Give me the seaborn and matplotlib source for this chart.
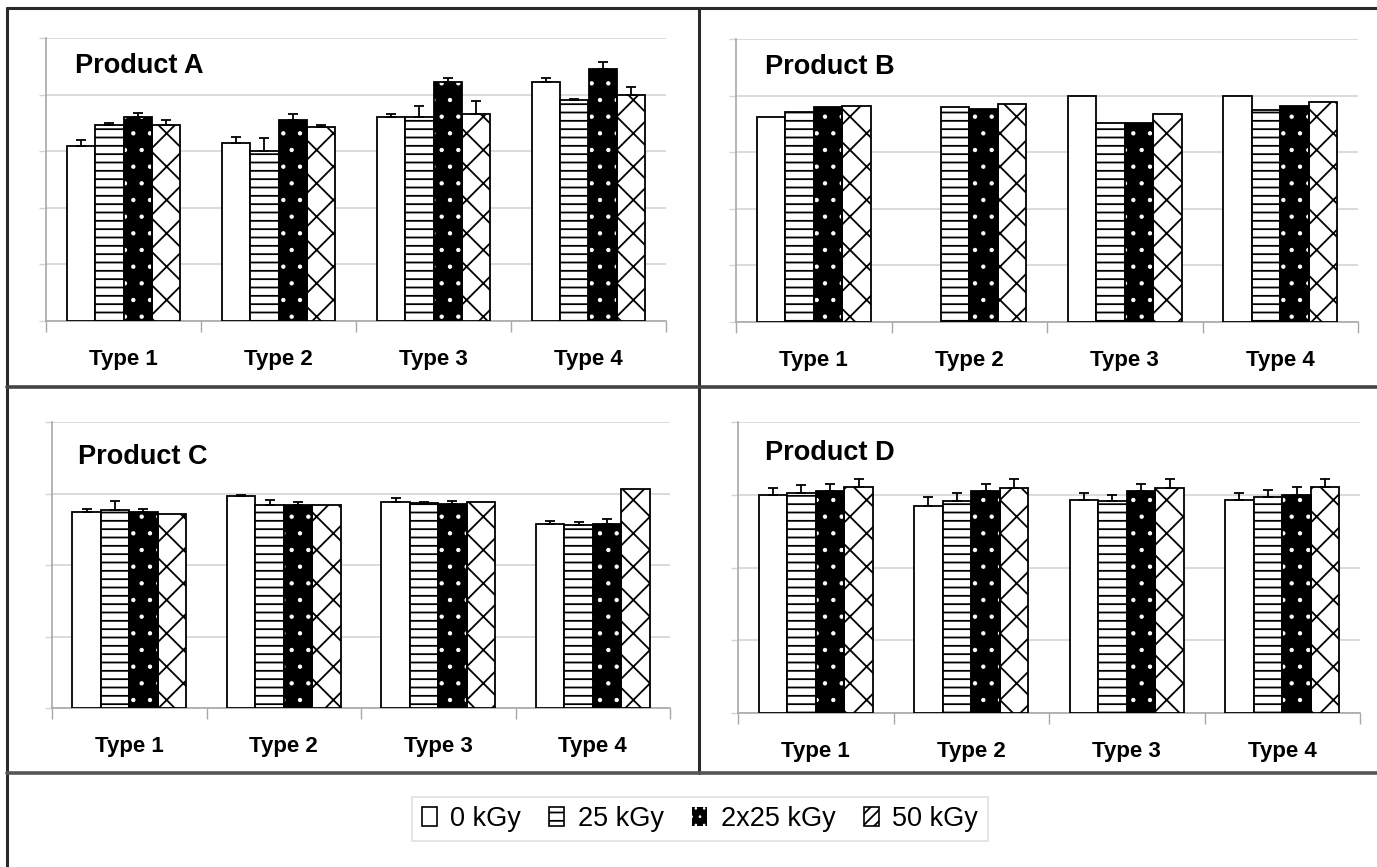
import numpy as np
import pandas as pd
import matplotlib
matplotlib.use("Agg")
import matplotlib.pyplot as plt
from matplotlib.lines import Line2D
from matplotlib.patches import Patch, Rectangle
from matplotlib.ticker import FixedLocator
import seaborn as sns

# ---------------- data ----------------
types = ["Type 1", "Type 2", "Type 3", "Type 4"]
doses = ["0 kGy", "25 kGy", "2x25 kGy", "50 kGy"]
products = ["Product A", "Product B", "Product C", "Product D"]

# values per dose (rows) across types (columns)
a_vals = [[3.09, 3.14, 3.60, 4.22],
          [3.47, 3.01, 3.60, 3.91],
          [3.60, 3.55, 4.22, 4.46],
          [3.47, 3.42, 3.66, 4.00]]
a_errs = [[0.11, 0.11, 0.05, 0.07],
          [0.02, 0.22, 0.19, 0.01],
          [0.08, 0.10, 0.07, 0.11],
          [0.08, 0.04, 0.23, 0.13]]

b_vals = [[3.63, np.nan, 4.00, 4.00],
          [3.71, 3.79, 3.52, 3.74],
          [3.79, 3.76, 3.52, 3.81],
          [3.81, 3.86, 3.68, 3.89]]
b_errs = [[0, 0, 0, 0], [0, 0, 0, 0], [0, 0, 0, 0], [0, 0, 0, 0]]

c_vals = [[2.74, 2.96, 2.88, 2.58],
          [2.77, 2.84, 2.87, 2.56],
          [2.74, 2.84, 2.86, 2.57],
          [2.72, 2.84, 2.88, 3.06]]
c_errs = [[0.05, 0.02, 0.06, 0.04],
          [0.12, 0.07, 0.01, 0.04],
          [0.05, 0.04, 0.04, 0.07],
          [0, 0, 0, 0]]

d_vals = [[2.99, 2.85, 2.93, 2.93],
          [3.03, 2.91, 2.91, 2.97],
          [3.05, 3.05, 3.05, 2.99],
          [3.11, 3.09, 3.09, 3.11]]
d_errs = [[0.10, 0.12, 0.10, 0.10],
          [0.10, 0.12, 0.09, 0.10],
          [0.10, 0.10, 0.10, 0.12],
          [0.10, 0.12, 0.12, 0.10]]

y_max = [5, 5, 4, 4]

# ---------------- style ----------------
sns.set_style("white")
plt.rcParams["font.family"] = ["Liberation Sans", "DejaVu Sans"]
plt.rcParams["hatch.linewidth"] = 1.3
plt.rcParams["text.color"] = "black"
plt.rcParams["xtick.color"] = "black"
plt.rcParams["xtick.labelcolor"] = "black"

W, H = 1377, 867
fig = plt.figure(figsize=(W / 100, H / 100), dpi=100)
fig.patch.set_facecolor("white")

def rect_px(left, right, top, bottom):
    return [left / W, 1 - bottom / H, (right - left) / W, (bottom - top) / H]

axes_rects = [rect_px(46, 666, 38, 321),
              rect_px(736, 1358, 39, 322),
              rect_px(52, 670, 422, 708),
              rect_px(738, 1360, 422, 713)]
title_pos = [(0.047, 0.90), (0.047, 0.90), (0.042, 0.878), (0.043, 0.893)]

palette = {"0 kGy": "white", "25 kGy": "white", "2x25 kGy": "black", "50 kGy": "white"}
hatches = [None, "--", ".", "x"]

all_vals = [a_vals, b_vals, c_vals, d_vals]
all_errs = [a_errs, b_errs, c_errs, d_errs]

grid_col = "#d4d4d4"
spine_col = "#a8a8a8"

for k in range(4):
    ax = fig.add_axes(axes_rects[k])
    rows = []
    for i, dose in enumerate(doses):
        for j, t in enumerate(types):
            rows.append({"type": t, "dose": dose, "value": all_vals[k][i][j]})
    df = pd.DataFrame(rows).dropna()
    sns.barplot(data=df, x="type", y="value", hue="dose", order=types,
                hue_order=doses, palette=palette, width=0.735,
                edgecolor="black", linewidth=1.3, errorbar=None,
                legend=False, ax=ax, zorder=3)

    bar_conts = list(ax.containers)
    for i, cont in enumerate(bar_conts):
        for bar in cont:
            if hatches[i] is None:
                continue
            if doses[i] == "2x25 kGy":
                bar.set_hatch(".")
                bar.set_edgecolor("white")
                bar.set_linewidth(0)
                if hasattr(bar, "set_hatch_linewidth"):
                    bar.set_hatch_linewidth(0.7)
                outline = Rectangle(bar.get_xy(), bar.get_width(), bar.get_height(),
                                    fill=False, edgecolor="black", linewidth=1.3,
                                    zorder=4)
                ax.add_patch(outline)
            else:
                bar.set_hatch(hatches[i])
        # error bars (upper only)
        xs = [b.get_x() + b.get_width() / 2 for b in cont]
        hs = [b.get_height() for b in cont]
        errs = all_errs[k][i]
        present = [t for t in types if t in set(df[df["dose"] == doses[i]]["type"])]
        for b_idx, t in enumerate(present):
            e = errs[types.index(t)]
            if e > 0:
                ax.errorbar(xs[b_idx], hs[b_idx], yerr=[[0], [e]], fmt="none",
                            ecolor="black", elinewidth=1.3, capsize=3.5,
                            capthick=1.3, zorder=5)

    ax.set_ylim(0, y_max[k])
    ax.set_xlim(-0.5, 3.5)
    ax.set_yticks(np.arange(0, y_max[k] + 1, 1))
    ax.set_yticklabels([])
    ax.yaxis.grid(True, color=grid_col, linewidth=1.2, zorder=0)
    ax.set_axisbelow(True)
    ax.tick_params(axis="y", which="major", left=True, length=5, width=1,
                   color=grid_col)
    ax.set_xticks(range(4))
    ax.set_xticklabels(types, fontsize=16, fontweight="bold", color="black")
    ax.tick_params(axis="x", which="major", length=0, pad=20)
    ax.xaxis.set_minor_locator(FixedLocator([-0.5, 0.5, 1.5, 2.5, 3.5]))
    ax.tick_params(axis="x", which="minor", bottom=True, length=8, width=1,
                   color=spine_col)
    ax.set_xlabel("")
    ax.set_ylabel("")
    for s in ["top", "right"]:
        ax.spines[s].set_visible(False)
    for s in ["left", "bottom"]:
        ax.spines[s].set_color(spine_col)
        ax.spines[s].set_linewidth(1.2)
    ax.text(title_pos[k][0], title_pos[k][1], products[k], transform=ax.transAxes,
            fontsize=19.5, fontweight="bold", va="center", ha="left", color="black")

# ---------------- frame lines ----------------
def fline(x0, y0, x1, y1, lw=2.2, col="#2a2a2a"):
    fig.add_artist(Line2D([x0 / W, x1 / W], [1 - y0 / H, 1 - y1 / H],
                          color=col, linewidth=lw, transform=fig.transFigure))

fline(7, 8, W, 8)
fline(7, 8, 7, H)
fline(699, 8, 699, 773)
fline(7, 387, W, 387, col="#444444", lw=2.6)
fline(7, 773, W, 773, col="#555555", lw=2.6)

# ---------------- legend ----------------
handles = [
    Patch(facecolor="white", edgecolor="black", linewidth=1.2),
    Patch(facecolor="white", edgecolor="black", linewidth=1.2, hatch="--"),
    Patch(facecolor="black", edgecolor="white", linewidth=0, hatch=".."),
    Patch(facecolor="white", edgecolor="black", linewidth=1.2, hatch="///"),
]
leg = fig.legend(handles, doses, loc="center", bbox_to_anchor=(700 / W, 1 - 819 / H),
                 ncol=4, fontsize=19.5, frameon=True, fancybox=False,
                 handlelength=0.55, handleheight=0.75, handletextpad=0.5,
                 columnspacing=1.05, borderpad=0.35, labelcolor="black")
leg.get_frame().set_edgecolor("#d8d8d8")
leg.get_frame().set_linewidth(1.2)
dot_handle = leg.get_patches()[2]
if hasattr(dot_handle, "set_hatch_linewidth"):
    dot_handle.set_hatch_linewidth(0.7)

fig.savefig("out.png", dpi=100, facecolor="white")
